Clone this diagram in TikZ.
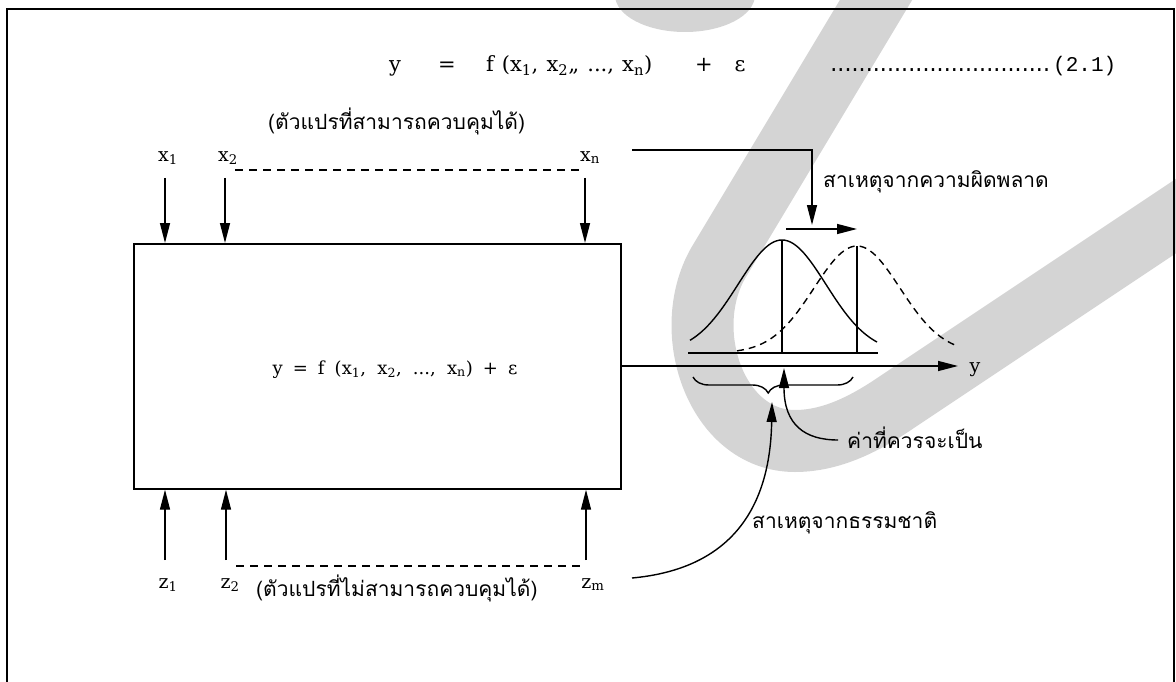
\documentclass[tikz,border=0pt]{standalone}
\usepackage{fontspec}
\setmainfont{DejaVu Serif}
\newfontfamily\thaif[Script=Thai]{Loma}
\newfontfamily\monof{Liberation Mono}
\usetikzlibrary{arrows.meta,decorations.pathreplacing}
\definecolor{wmgray}{RGB}{212,212,212}
\begin{document}
\begin{tikzpicture}[x=1pt,y=-1pt,
  ln/.style={line width=1.4pt},
  arr/.style={line width=1.4pt,-{Triangle[length=20pt,width=10pt]}},
  dsh/.style={line width=1.1pt,dash pattern=on 8pt off 6pt},
  eq/.style={inner sep=0pt,anchor=base,font=\fontsize{21}{24}\selectfont},
  lbl/.style={inner sep=0pt,anchor=base,font=\fontsize{19}{22}\selectfont},
  thai/.style={inner sep=0pt,anchor=base west,font=\thaif\fontsize{21}{26}\selectfont},
]
\useasboundingbox (0,0) rectangle (1176,682);
% watermark band (behind)
\begin{scope}
\clip (0,0) rectangle (1176,682);
\fill[wmgray] (685,-5) ellipse [x radius=70, y radius=37];
\draw[wmgray,line width=62pt] (900,-40) -- (720,260)
  .. controls (678,328) and (715,441) .. (795,441)
  .. controls (835,441) and (871,420) .. (900,400) -- (1260,160);
\end{scope}
% frame
\draw[line width=1.5pt] (7,682) -- (7,9) -- (1174,9) -- (1174,682);
% top equation
\node[eq] (ey) at (395,72) {y};
\node[eq] (eeq) at (447,72) {=};
\node[eq,anchor=base west] (ef) at (486,72) {\makebox[166pt][s]{f (x\textsubscript{1}, x\textsubscript{2},, ..., x\textsubscript{n})}};
\node[eq] (eplus) at (704,72) {+};
\node[eq] (eeps) at (740,72) {ε};
\node[inner sep=0pt,anchor=base west,font=\monof\fontsize{20}{24}\selectfont] (dots) at (830,72) {\hbox to 220pt{\xleaders\hbox to 7pt{\hss.\hss}\hfill}};
\node[inner sep=0pt,anchor=base west,font=\monof\fontsize{21}{24}\selectfont] (eqno) at (1053,72) {(2.1)};
% controllable inputs
\node[thai] (ctl) at (268,130) {(ตัวแปรที่สามารถควบคุมได้)};
\node[lbl] (x1) at (168,161) {x\textsubscript{1}};
\node[lbl] (x2) at (228,161) {x\textsubscript{2}};
\node[lbl] (xn) at (590,161) {x\textsubscript{n}};
% box
\node[draw,line width=1.7pt,minimum width=487pt,minimum height=245pt,anchor=north west,inner sep=0pt] (box) at (133,243) {};
\node[lbl,font=\fontsize{18}{22}\selectfont] (btext) at (395,374) {\makebox[245pt][s]{y = f (x\textsubscript{1}, x\textsubscript{2}, ..., x\textsubscript{n}) + ε}};
\coordinate (x1s) at (165,178);
\coordinate (x2s) at (225,178);
\coordinate (xns) at (585,178);
\draw[arr] (x1s) -- (x1s |- box.north);
\draw[arr] (x2s) -- (x2s |- box.north);
\draw[arr] (xns) -- (xns |- box.north);
\draw[dsh] (235,170) -- (580,170);
% uncontrollable inputs
\node[lbl] (z1) at (168,588) {z\textsubscript{1}};
\node[lbl] (z2) at (230,588) {z\textsubscript{2}};
\node[lbl] (zm) at (593,588) {z\textsubscript{m}};
\node[thai] (unc) at (256,596) {(ตัวแปรที่ไม่สามารถควบคุมได้)};
\coordinate (z1s) at (165,560);
\coordinate (z2s) at (226,560);
\coordinate (zms) at (586,560);
\draw[arr] (z1s) -- (z1s |- box.south);
\draw[arr] (z2s) -- (z2s |- box.south);
\draw[arr] (zms) -- (zms |- box.south);
\draw[dsh] (236,566) -- (580,566);
% output axis
\node[lbl] (ylab) at (975,372) {y};
\coordinate (axend) at (958,366);
\draw[arr] (box.east |- axend) -- (axend);
% error cause
\coordinate (xnl) at (632,150);
\coordinate (errtip) at (812,225);
\draw[arr] (xnl) -| (errtip);
\node[thai] (err) at (823,187) {สาเหตุจากความผิดพลาด};
\coordinate (sh1) at (786,229);
\coordinate (sh2) at (857,229);
\draw[arr] (sh1) -- (sh2);
% distributions
\draw[ln] (688,353) -- (878,353);
\draw[ln] plot[domain=690:877,samples=70,smooth] (\x,{353-113*exp(-((\x-782)^2)/(2*44^2))});
\draw[ln,dash pattern=on 7pt off 5pt] plot[domain=737:955,samples=70,smooth] (\x,{353-107*exp(-((\x-857)^2)/(2*43^2))});
\draw[ln] (782,240) -- (782,353);
\draw[ln] (857,246) -- (857,353);
% brace
\draw[ln,decorate,decoration={brace,mirror,amplitude=16pt,aspect=0.47}] (693,377) -- (853,377);
% expected value
\node[thai] (kt) at (847,448) {ค่าที่ควรจะเป็น};
\coordinate (ktc) at (838,440);
\coordinate (kttip) at (784,368);
\draw[arr] (ktc) .. controls (805,440) and (784,425) .. (kttip);
% natural cause
\node[thai] (nat) at (752,528) {สาเหตุจากธรรมชาติ};
\coordinate (zmc) at (632,578);
\coordinate (brtip) at (772,402);
\draw[arr] (zmc) .. controls (720,570) and (770,520) .. (brtip);
\end{tikzpicture}
\end{document}
